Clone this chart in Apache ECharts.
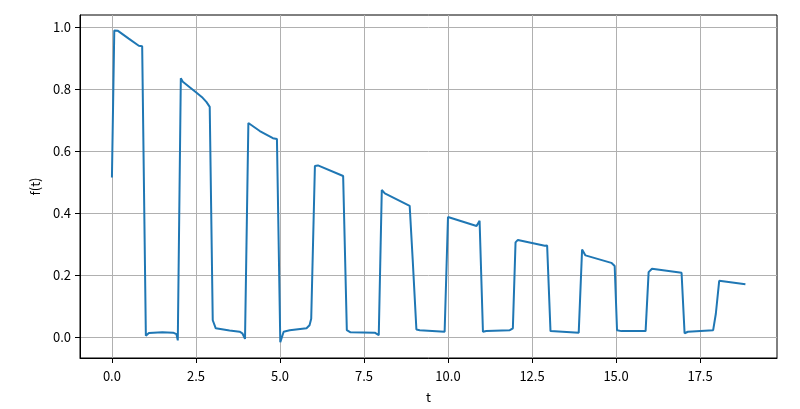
<!DOCTYPE html>
<html>
<head>
<meta charset="utf-8">
<script src="https://cdn.jsdelivr.net/npm/echarts@6/dist/echarts.min.js"></script>
<style>html,body{margin:0;padding:0;background:#fff}#c{width:800px;height:409px}</style>
</head>
<body>
<div id="c"></div>
<script>
const tValues = [0.00,0.07,0.18,0.50,0.80,0.90,1.01,1.10,1.50,1.82,1.92,1.96,
  2.05,2.11,2.51,2.70,2.81,2.91,3.00,3.09,3.50,3.80,3.88,3.96,
  4.06,4.40,4.79,4.91,5.01,5.11,5.29,5.79,5.88,5.93,
  6.04,6.13,6.88,6.99,7.10,7.82,7.94,
  8.03,8.12,8.86,8.95,9.06,9.16,9.90,
  10.00,10.85,10.94,11.04,11.14,11.84,11.93,
  12.01,12.08,12.88,12.95,13.05,13.89,
  13.99,14.09,14.86,14.96,15.03,15.16,15.88,
  15.97,16.07,16.95,17.04,17.14,17.89,17.97,18.07,18.85];
const fValues = [0.515,0.989,0.988,0.963,0.940,0.938,0.005,0.014,0.016,0.015,0.010,-0.010,
  0.835,0.824,0.789,0.772,0.759,0.743,0.055,0.029,0.022,0.018,0.013,-0.005,
  0.691,0.665,0.642,0.639,-0.016,0.018,0.023,0.029,0.039,0.060,
  0.552,0.554,0.520,0.023,0.016,0.015,0.007,
  0.475,0.464,0.424,0.250,0.025,0.023,0.018,
  0.388,0.359,0.376,0.018,0.020,0.023,0.029,
  0.306,0.314,0.295,0.296,0.020,0.015,
  0.283,0.264,0.240,0.230,0.023,0.020,0.020,
  0.210,0.221,0.208,0.013,0.018,0.023,0.076,0.182,0.171];
const xTicks = [0, 2.5, 5, 7.5, 10, 12.5, 15, 17.5];
const yTicks = [0, 0.2, 0.4, 0.6, 0.8, 1.0];

const font = '"Noto Sans CJK SC", sans-serif';
const chart = echarts.init(document.getElementById('c'), null, {renderer: 'canvas'});
const data = tValues.map((t, i) => [t, fValues[i]]);
chart.setOption({
  animation: false,
  grid: {left: 80, right: 23, top: 15, bottom: 46, show: true, borderColor: '#000', borderWidth: 1, backgroundColor: 'transparent'},
  xAxis: {
    type: 'value', min: -0.95, max: 19.79,
    name: 't', nameLocation: 'middle', nameGap: 33,
    nameTextStyle: {color: '#000', fontSize: 13, fontFamily: font},
    axisLine: {show: true, onZero: false, lineStyle: {color: '#000', width: 1}},
    axisTick: {show: true, length: 5, inside: false, customValues: xTicks, lineStyle: {color: '#000', width: 1}},
    axisLabel: {customValues: xTicks, color: '#000', fontSize: 13, fontFamily: font, margin: 12,
      formatter: v => v.toFixed(1)},
    splitLine: {show: true, lineStyle: {color: '#b0b0b0', width: 1}}
  },
  yAxis: {
    type: 'value', min: -0.0667, max: 1.039,
    name: 'f(t)', nameLocation: 'middle', nameGap: 38, nameRotate: 90,
    nameTextStyle: {color: '#000', fontSize: 13, fontFamily: font},
    axisLine: {show: true, onZero: false, lineStyle: {color: '#000', width: 1}},
    axisTick: {show: true, length: 5, inside: false, customValues: yTicks, lineStyle: {color: '#000', width: 1}},
    axisLabel: {customValues: yTicks, color: '#000', fontSize: 13, fontFamily: font, margin: 9,
      formatter: v => v.toFixed(1)},
    splitLine: {show: true, lineStyle: {color: '#b0b0b0', width: 1}}
  },
  series: [{
    type: 'line', data: data, showSymbol: false, symbol: 'none',
    lineStyle: {color: '#1f77b4', width: 2}, itemStyle: {color: '#1f77b4'}
  }]
});
</script>
</body>
</html>
